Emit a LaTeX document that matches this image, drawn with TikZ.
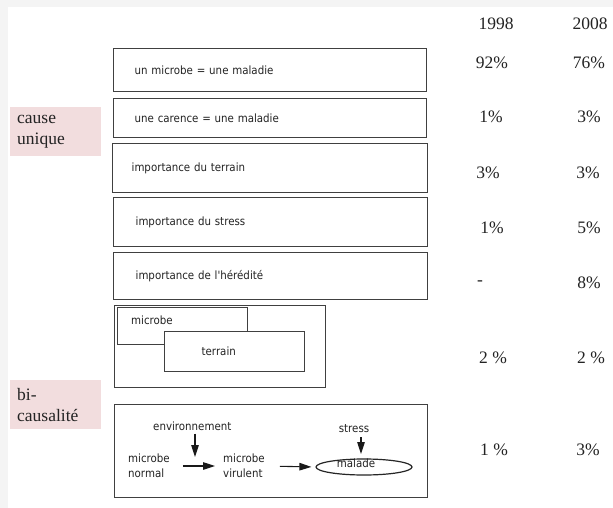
\documentclass[tikz,border=0pt]{standalone}
\usepackage{fontspec}
\setmainfont{Liberation Serif}
\newfontfamily\boxfont[FakeStretch=0.9]{DejaVu Sans}
\usetikzlibrary{arrows.meta, shapes.geometric}
\definecolor{tagpink}{RGB}{242,221,222}
\definecolor{framegray}{RGB}{244,244,244}
\definecolor{textgray}{RGB}{35,35,35}
\tikzset{
  box/.style={draw=black!75, line width=1.3pt, anchor=north west, align=left},
  rowbox/.style={box, minimum width=313pt, text width=271pt, inner xsep=21pt},
  boxtext/.style={anchor=west, inner sep=0pt, text=textgray, align=left,
    font=\boxfont\fontsize{11.4}{15}\selectfont},
  pct/.style={text=textgray, font=\fontsize{17.5}{21}\selectfont},
  tag/.style={fill=tagpink, anchor=north west, minimum width=91pt, minimum height=49pt,
    text width=77pt, inner xsep=7pt, align=left, text=textgray,
    font=\fontsize{17.5}{21}\selectfont},
  flow/.style={draw=black!90, line width=1.1pt, -{Triangle[length=12pt,width=7.5pt]}}
}

\begin{document}
\begin{tikzpicture}[x=1pt, y=-1pt]
\useasboundingbox (0,0) rectangle (613,508);
\fill[framegray] (0,0) rectangle (613,508);
\fill[white] (8,7) rectangle (613,508);
%% years
  \node[pct] (y1998) at (496,24) {1998};
  \node[pct] (y2008) at (590,24) {2008};
%% cause unique
  \node[tag] (unique) at (10,107) {cause\\unique};
  \node[rowbox, minimum height=43pt, font=\boxfont\fontsize{11.4}{15}\selectfont, text=textgray] (onemicrobe) at (113,48) {un microbe = une maladie};
  \node[rowbox, minimum height=39pt, font=\boxfont\fontsize{11.4}{15}\selectfont, text=textgray] (carence) at (113,98) {une carence = une maladie};
  \node[rowbox, minimum height=49pt, font=\boxfont\fontsize{11.4}{15}\selectfont, text=textgray, inner xsep=19pt, text width=277pt] (terrainrow) at (112,143) {importance du terrain};
  \node[rowbox, minimum height=49pt, font=\boxfont\fontsize{11.4}{15}\selectfont, text=textgray, inner xsep=22pt, text width=270pt] (stressrow) at (113,197) {importance du stress};
  \node[rowbox, minimum height=47pt, font=\boxfont\fontsize{11.4}{15}\selectfont, text=textgray, inner xsep=22pt, text width=270pt] (heredite) at (113,252) {importance de l'hérédité};
  \node[pct] (p1a) at (492,63) {92\%};
  \node[pct] (p1b) at (589,63) {76\%};
  \node[pct] (p2a) at (491,117) {1\%};
  \node[pct] (p2b) at (589,117) {3\%};
  \node[pct] (p3a) at (488,173) {3\%};
  \node[pct] (p3b) at (588,173) {3\%};
  \node[pct] (p4a) at (492,228) {1\%};
  \node[pct] (p4b) at (589,228) {5\%};
  \node[pct] (p5a) at (480,283) {-};
  \node[pct] (p5b) at (589,283) {8\%};
%% bi-causalite
  \node[tag] (bicause) at (10,380) {bi-\\causalité};
  \node[box, minimum width=211pt, minimum height=82pt] (overlap) at (114,305) {};
  \node[box, minimum width=130pt, minimum height=37pt] (microbebox) at (117,307) {};
  \node[boxtext] (microbetxt) at (131,320) {microbe};
  \node[box, fill=white, minimum width=140pt, minimum height=40pt, inner xsep=37pt,
    text width=66pt, font=\boxfont\fontsize{11.4}{15}\selectfont, text=textgray] (terrainbox) at (164,331) {terrain};
  \node[pct] (p6a) at (493,358) {2 \%};
  \node[pct] (p6b) at (591,358) {2 \%};
%% chain
  \node[box, minimum width=313pt, minimum height=93pt] (chainbox) at (114,404) {};
  \node[boxtext] (envt) at (153,426) {environnement};
  \node[boxtext] (normal) at (128,466) {microbe\\normal};
  \node[boxtext] (virulent) at (223,466) {microbe\\virulent};
  \node[boxtext, anchor=center] (stress) at (354,429) {stress};
  \node[ellipse, draw=black!85, line width=1.2pt, minimum width=96pt, minimum height=16pt,
    inner sep=0pt] (malade) at (364,467) {};
  \node[boxtext, anchor=center] (maladetxt) at (356,463) {malade};
  \coordinate (envtip) at (195,457);
  \coordinate (stresstip) at (361,454);
  \draw[flow, shorten <=3pt] (envtip |- envt.south) -- (envtip);
  \draw[flow, shorten <=13pt, shorten >=8pt] (normal.east) -- (virulent.west);
  \draw[flow, shorten <=15pt, shorten >=4pt] (virulent.east) -- (malade.west);
  \draw[flow, shorten <=4pt] (stresstip |- stress.south) -- (stresstip);
  \node[pct] (p7a) at (494,450) {1 \%};
  \node[pct] (p7b) at (588,450) {3\%};
\end{tikzpicture}
\end{document}
